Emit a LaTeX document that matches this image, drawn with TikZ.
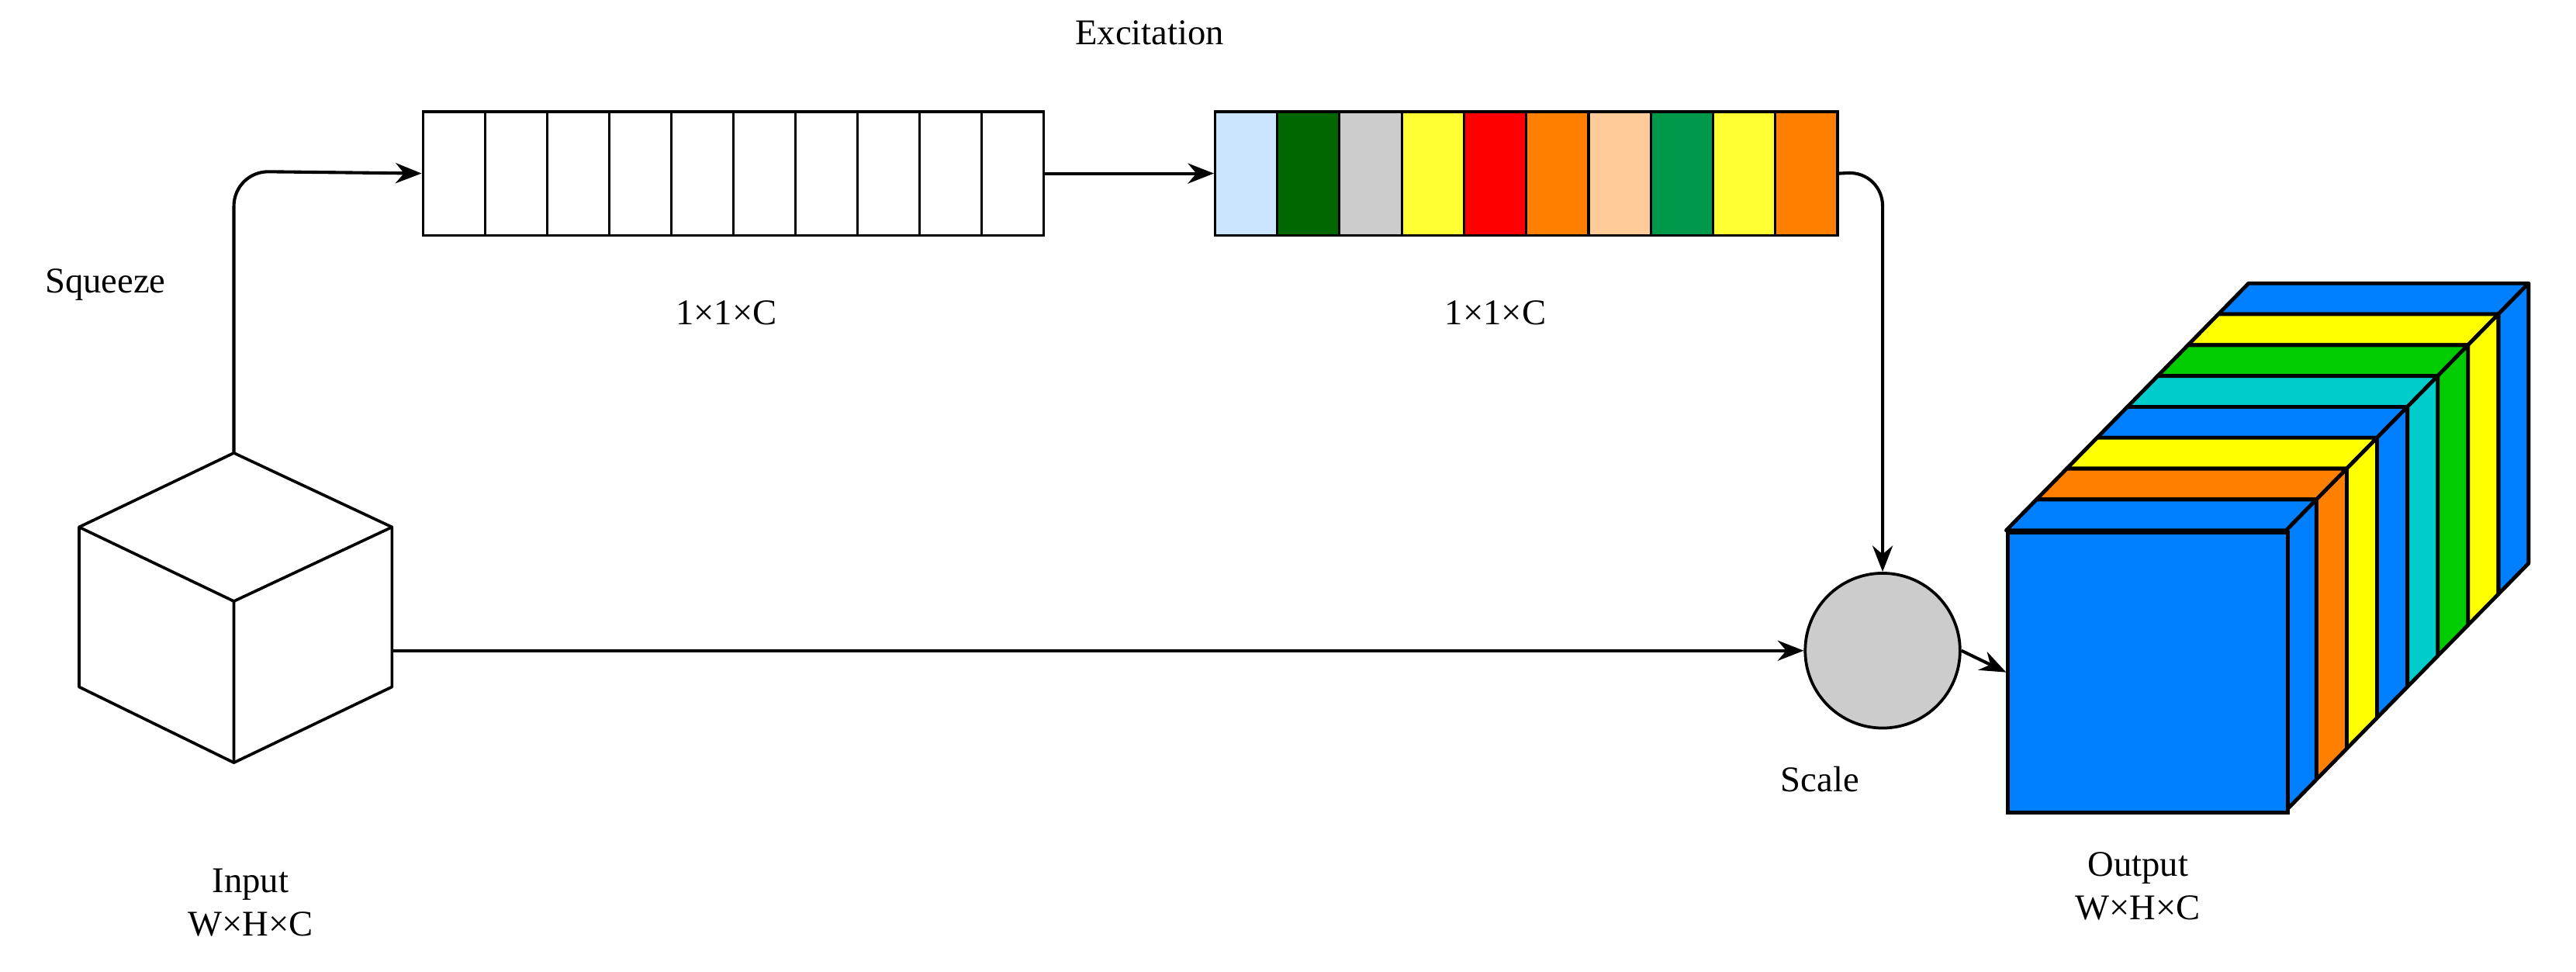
\documentclass[tikz,border=0pt]{standalone}
\usepackage{fontspec}
\setmainfont{Liberation Serif}
\usetikzlibrary{arrows.meta,calc}
\definecolor{cLB}{HTML}{CCE5FF}\definecolor{cDG}{HTML}{006600}\definecolor{cGR}{HTML}{CCCCCC}
\definecolor{cYE}{HTML}{FFFF33}\definecolor{cRE}{HTML}{FF0000}\definecolor{cOR}{HTML}{FF8000}
\definecolor{cPE}{HTML}{FFCC99}\definecolor{cMG}{HTML}{00994C}
\definecolor{oBL}{HTML}{007FFF}\definecolor{oYE}{HTML}{FFFF00}\definecolor{oCY}{HTML}{00CCCC}\definecolor{oGN}{HTML}{00CC00}\definecolor{oOR}{HTML}{FF8000}
\tikzset{
 conn/.style={line width=1.1pt,-{Stealth[length=9pt,width=7pt]}},
 lbl/.style={font=\fontsize{12.5}{15}\selectfont,inner sep=0pt},
 cellbox/.style={draw,line width=0.8pt,minimum width=37.7*0.02cm,minimum height=75*0.02cm,inner sep=0pt,anchor=north west},
 edge/.style={draw=black,line width=1.3pt,line join=round},
}
\begin{document}
\begin{tikzpicture}[x=0.02cm,y=-0.02cm]
\useasboundingbox (0,0) rectangle (1564,590);
% bar 1
\foreach \i in {0,...,9}{\node[cellbox,fill=white] (a\i) at ({256+37.7*\i},67) {};}
\node[draw,line width=0.9pt,minimum width=377*0.02cm,minimum height=75*0.02cm,inner sep=0pt,anchor=north west] (bar1) at (256,67) {};
% bar 2
\foreach \c [count=\i from 0] in {cLB,cDG,cGR,cYE,cRE,cOR,cPE,cMG,cYE,cOR}{\node[cellbox,fill=\c] (b\i) at ({737+37.8*\i},67) {};}
\node[draw,line width=0.9pt,minimum width=378*0.02cm,minimum height=75*0.02cm,inner sep=0pt,anchor=north west] (bar2) at (737,67) {};
% input cube
\coordinate (ct) at (142,275);\coordinate (cl) at (48,320);\coordinate (cr) at (238,320);
\coordinate (cc) at (142,365);\coordinate (clb) at (48,417);\coordinate (crb) at (238,417);\coordinate (cb) at (142,463);
\draw[line width=1pt,line join=round,fill=white] (ct)--(cr)--(crb)--(cb)--(clb)--(cl)--cycle;
\draw[line width=1pt] (cl)--(cc)--(cr) (cc)--(cb);
\coordinate (cin) at (238,395);
% circle
\node[circle,draw,line width=1pt,fill=cGR,minimum size=94*0.02cm,inner sep=0pt] (sc) at (1143,395) {};
% output cube
\def\W{170}\def\dx{18.4}\def\dy{-18.75}
\foreach \c [count=\k from 0] in {oBL,oYE,oGN,oCY,oBL,oYE,oOR,oBL}{
  \pgfmathsetmacro\ox{1218+(7-\k)*\dx}\pgfmathsetmacro\oy{322+(7-\k)*\dy}
  \draw[edge,fill=\c] (\ox,\oy)--++(\dx,\dy)--++(\W,0)--++(-\dx,-\dy)--cycle;
  \draw[edge,fill=\c] (\ox+\W,\oy)--++(\dx,\dy)--++(0,\W)--++(-\dx,-\dy)--cycle;
}
\node[draw,line width=1.3pt,fill=oBL,minimum size=170*0.02cm,inner sep=0pt,anchor=north west] (out) at (1218,322) {};
% connectors
\draw[conn,rounded corners=12pt] (ct) -- (142,104) -- (bar1.west);
\draw[conn] (bar1.east) -- (bar2.west);
\draw[conn,rounded corners=12pt] (bar2.east) -- (1143,104) -- (sc.north);
\draw[conn] (cin) -- (sc.west);
\draw[conn] (sc.east) -- (out.west);
% labels
\node[lbl] (t1) at (698,20) {Excitation};
\node[lbl] (t2) at (64,173) {Squeeze};
\node[lbl] (t3) at (441,190) {1×1×C};
\node[lbl] (t4) at (908,190) {1×1×C};
\node[lbl,align=center] (t5) at (152,548) {Input\\W×H×C};
\node[lbl] (t6) at (1105,473) {Scale};
\node[lbl,align=center] (t7) at (1298,538) {Output\\W×H×C};
\end{tikzpicture}
\end{document}
